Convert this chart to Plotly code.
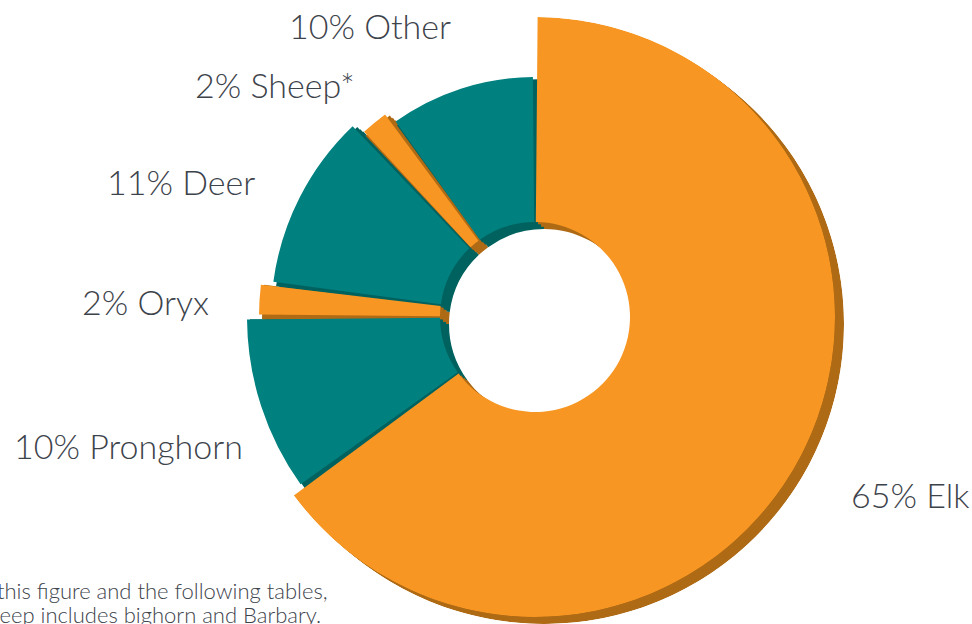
import plotly.graph_objects as go

# ---- data ----
species = ["Elk", "Pronghorn", "Oryx", "Deer", "Sheep", "Other"]
shares = [65, 10, 2, 11, 2, 10]
label_texts = ["65% Elk", "10% Pronghorn", "2% Oryx", "11% Deer", "2% Sheep*", "10% Other"]
footnote_lines = ["*In this figure and the following tables,",
                  "sheep includes bighorn and Barbary."]

# ---- styles ----
face_colors = ["#F79622", "#00807F", "#F79622", "#00807F", "#F79622", "#00807F"]
side_colors = ["#AE6A14", "#00625F", "#AE6A14", "#00625F", "#AE6A14", "#00625F"]
outer_r = [300, 288, 276, 264, 252, 240]
inner_r = 95
gap_deg = 1.0
W, H = 972, 624
CX, CY, R = 535, 317, 300
SHIFT = (9, 7)
TEXT_COLOR = "#3d434b"
FONT = "Lato"

# angular geometry derived from the shares
total = sum(shares)
spans = [s / total * 360 for s in shares]
centers = []
acc = 0
for sp in spans:
    centers.append(acc + sp / 2)
    acc += sp
lengths = [o - inner_r for o in outer_r]


def polar_layout(dx, dy):
    return dict(
        domain=dict(x=[(CX - R + dx) / W, (CX + R + dx) / W],
                    y=[(H - (CY + R + dy)) / H, (H - (CY - R + dy)) / H]),
        bgcolor="rgba(0,0,0,0)",
        hole=0,
        radialaxis=dict(visible=False, range=[0, R], showgrid=False,
                        showline=False, showticklabels=False, ticks=""),
        angularaxis=dict(visible=False, direction="clockwise", rotation=90,
                         showgrid=False, showline=False, showticklabels=False,
                         ticks=""),
    )


fig = go.Figure()
layout_polars = {}
n_layers = 3
names = []
for k in range(n_layers, 0, -1):
    idx = len(names) + 1
    name = "polar" if idx == 1 else f"polar{idx}"
    names.append(name)
    dx = SHIFT[0] * k / n_layers
    dy = SHIFT[1] * k / n_layers
    layout_polars[name] = polar_layout(dx, dy)
    fig.add_trace(go.Barpolar(
        theta=centers, width=spans, r=lengths, base=[inner_r] * len(shares),
        marker=dict(color=side_colors, line=dict(width=0)),
        subplot=name, hoverinfo="skip", showlegend=False,
    ))

front = f"polar{len(names) + 1}"
layout_polars[front] = polar_layout(0, 0)
fig.add_trace(go.Barpolar(
    theta=centers, width=[s - gap_deg for s in spans], r=lengths,
    base=[inner_r] * len(shares), customdata=species,
    marker=dict(color=face_colors, line=dict(width=0)),
    subplot=front, hoverinfo="skip", showlegend=False,
))

# label placement (paper px)
label_pos = {
    "65% Elk": (849, 494, "left"),
    "10% Pronghorn": (245, 445, "right"),
    "2% Oryx": (211, 301, "right"),
    "11% Deer": (257, 181, "right"),
    "2% Sheep*": (357, 85, "right"),
    "10% Other": (453, 26, "right"),
}
annotations = []
for t in label_texts:
    x, y, anc = label_pos[t]
    annotations.append(dict(
        text=t, x=x / W, y=1 - y / H, xref="paper", yref="paper",
        xanchor=anc, yanchor="middle", showarrow=False,
        font=dict(family=FONT, size=34, color=TEXT_COLOR, weight=300),
    ))

foot_pos = [(330, 590), (323, 614)]
for line, (x, y) in zip(footnote_lines, foot_pos):
    annotations.append(dict(
        text=line, x=x / W, y=1 - y / H, xref="paper", yref="paper",
        xanchor="right", yanchor="middle", showarrow=False,
        font=dict(family=FONT, size=22, color=TEXT_COLOR, weight=300),
    ))

fig.update_layout(
    template="none",
    width=W, height=H,
    margin=dict(l=0, r=0, t=0, b=0),
    paper_bgcolor="white",
    plot_bgcolor="white",
    showlegend=False,
    annotations=annotations,
    **layout_polars,
)

fig.write_html("out.html")
